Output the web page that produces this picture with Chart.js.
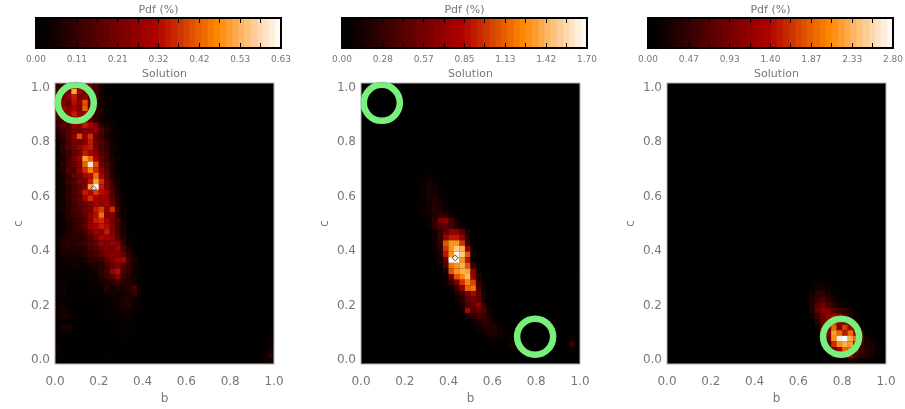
<!DOCTYPE html>
<html>
<head>
<meta charset="utf-8">
<title>Pdf solution</title>
<script src="https://cdn.jsdelivr.net/npm/chart.js@4/dist/chart.umd.min.js"></script>
<style>
  html, body { margin: 0; padding: 0; background: #fff; }
  #page { position: relative; width: 905px; height: 409px; overflow: hidden; }
  canvas { position: absolute; }
</style>
</head>
<body>
<div id="page"></div>
<script>
// tick labels
const bTicks = ['0.0', '0.2', '0.4', '0.6', '0.8', '1.0'];
const barLabelsA = ['0.00', '0.11', '0.21', '0.32', '0.42', '0.53', '0.63'];
const barLabelsB = ['0.00', '0.28', '0.57', '0.85', '1.13', '1.42', '1.70'];
const barLabelsC = ['0.00', '0.47', '0.93', '1.40', '1.87', '2.33', '2.80'];

// colour bar steps, fraction of the scale (bin centres)
const barLevels = [0.0125, 0.0375, 0.0625, 0.0875, 0.1125, 0.1375, 0.1625, 0.1875, 0.2125, 0.2375,
  0.2625, 0.2875, 0.3125, 0.3375, 0.3625, 0.3875, 0.4125, 0.4375, 0.4625, 0.4875,
  0.5125, 0.5375, 0.5625, 0.5875, 0.6125, 0.6375, 0.6625, 0.6875, 0.7125, 0.7375,
  0.7625, 0.7875, 0.8125, 0.8375, 0.8625, 0.8875, 0.9125, 0.9375, 0.9625, 0.9875];

// pdf maxima (%), in hundredths like the rows below
const maxA = 63, maxB = 170, maxC = 280;

// pdf rows: [row from top, first column, values in hundredths of a percent...]
const pdfA = [
  [0, 0, 10, 14, 18, 20, 22, 22, 18, 12, 4], [1, 0, 12, 18, 22, 50, 30, 24, 20, 14, 5],
  [2, 0, 14, 20, 26, 34, 22, 26, 16, 12, 6, 3], [3, 0, 16, 24, 18, 32, 26, 40, 20, 10, 5, 3, 3],
  [4, 0, 12, 28, 24, 30, 24, 42, 20, 12, 6, 3, 2], [5, 0, 14, 18, 26, 34, 28, 28, 22, 10, 6, 3],
  [6, 0, 12, 14, 18, 30, 22, 26, 14, 10, 5, 4, 3], [7, 0, 10, 18, 16, 28, 24, 34, 30, 22, 8, 6, 3],
  [8, 0, 8, 12, 16, 22, 20, 24, 22, 26, 14, 8, 4, 3], [9, 0, 6, 10, 16, 24, 40, 26, 36, 18, 12, 6, 4, 2],
  [10, 0, 5, 8, 14, 22, 20, 24, 34, 20, 16, 10, 4, 2, 1], [11, 0, 4, 10, 16, 20, 26, 32, 34, 22, 14, 10, 5, 3, 1],
  [12, 0, 3, 8, 12, 18, 22, 34, 30, 24, 16, 12, 5, 2], [13, 0, 4, 6, 14, 20, 28, 50, 42, 30, 18, 12, 6, 3],
  [14, 0, 3, 10, 12, 18, 24, 42, 60, 40, 20, 14, 8, 3], [15, 0, 4, 8, 16, 14, 26, 36, 46, 36, 26, 16, 6, 3],
  [16, 0, 3, 6, 10, 18, 20, 30, 32, 44, 30, 18, 8, 4, 2], [17, 0, 3, 6, 12, 14, 22, 22, 34, 50, 36, 22, 10, 5, 2],
  [18, 0, 3, 5, 9, 14, 18, 24, 50, 63, 34, 24, 12, 5, 2], [19, 0, 3, 6, 10, 14, 18, 34, 30, 38, 32, 30, 14, 6, 2],
  [20, 0, 3, 5, 10, 13, 17, 30, 36, 30, 28, 26, 16, 8, 3], [21, 0, 3, 5, 9, 13, 18, 18, 24, 30, 26, 30, 20, 8, 3, 1],
  [22, 0, 3, 6, 9, 14, 15, 20, 22, 34, 38, 26, 36, 12, 4, 1], [23, 0, 2, 5, 8, 12, 14, 18, 26, 32, 44, 24, 24, 10, 4, 1],
  [24, 0, 1, 4, 7, 10, 12, 15, 24, 34, 36, 30, 20, 14, 5, 2], [25, 0, 1, 4, 6, 9, 12, 17, 26, 30, 34, 32, 22, 12, 6, 2],
  [26, 0, 2, 4, 7, 9, 10, 13, 20, 28, 24, 34, 22, 14, 6, 2], [27, 0, 3, 6, 7, 9, 8, 11, 15, 22, 30, 28, 26, 16, 8, 3, 1],
  [28, 0, 4, 7, 9, 8, 10, 12, 15, 18, 26, 22, 26, 24, 10, 4, 1], [29, 0, 3, 7, 7, 7, 7, 9, 13, 16, 20, 24, 20, 28, 14, 6, 2],
  [30, 0, 3, 6, 4, 5, 6, 8, 11, 13, 17, 22, 24, 22, 18, 10, 4, 1], [31, 0, 3, 4, 5, 4, 5, 6, 9, 9, 11, 16, 22, 28, 30, 12, 6, 2],
  [32, 0, 2, 3, 4, 5, 3, 4, 5, 7, 9, 13, 18, 22, 16, 10, 5, 2], [33, 0, 2, 2, 3, 3, 3, 3, 4, 5, 9, 13, 26, 32, 14, 10, 4, 2, 1],
  [34, 0, 1, 2, 3, 3, 2, 2, 3, 4, 7, 11, 15, 24, 12, 8, 5, 3, 1], [35, 0, 3, 4, 3, 2, 2, 2, 3, 4, 6, 6, 9, 12, 9, 7, 5, 2],
  [36, 0, 4, 5, 2, 2, 2, 2, 2, 3, 3, 9, 5, 7, 6, 8, 14, 3, 1], [37, 0, 4, 4, 2, 1, 2, 2, 2, 3, 3, 5, 5, 4, 5, 6, 10, 3, 1],
  [38, 0, 3, 3, 2, 1, 1, 2, 2, 2, 2, 3, 4, 5, 6, 7, 5, 2], [39, 0, 4, 4, 2, 1, 1, 1, 2, 2, 2, 2, 3, 4, 7, 8, 4, 2, 1],
  [40, 0, 4, 6, 4, 2, 1, 1, 1, 2, 2, 3, 3, 3, 5, 5, 3, 1], [41, 0, 3, 5, 5, 2, 1, 1, 1, 2, 2, 2, 2, 2, 3, 4, 2, 1],
  [42, 0, 2, 2, 2, 1, 0, 0, 1, 1, 2, 2, 2, 2, 2, 3, 1, 1], [43, 0, 3, 6, 6, 2, 0, 0, 0, 1, 1, 2, 2, 1, 2, 2, 1],
  [44, 0, 2, 3, 3, 1, 0, 0, 0, 1, 1, 1, 1, 1, 4, 3, 1], [45, 0, 2, 2, 2, 0, 0, 0, 0, 0, 1, 1, 1, 1, 3, 1, 1],
  [46, 0, 2, 1, 1, 0, 0, 0, 0, 0, 0, 1, 1, 1, 1, 1, 0, 1], [47, 0, 4, 2, 1, 0, 0, 0, 0, 0, 0, 0, 0, 1, 1],
  [48, 0, 2, 1, 1, 0, 0, 0, 0, 0, 0, 3], [49, 0, 4, 0, 0, 0, 0, 0, 0, 0, 0, 0, 1],
  [43, 39, 2], [44, 39, 3], [45, 39, 3], [46, 39, 4], [47, 38, 2, 6], [48, 37, 2, 4, 9], [49, 38, 5, 3]
];

const pdfB = [
  [14, 11, 3, 5], [15, 11, 4, 6, 3], [16, 10, 3, 6, 8, 6, 2], [17, 10, 4, 8, 14, 8, 3],
  [18, 10, 5, 10, 16, 12, 4, 2], [19, 10, 4, 8, 14, 12, 6, 3], [20, 10, 3, 8, 16, 18, 10, 5],
  [21, 9, 5, 4, 6, 12, 20, 16, 8, 3], [22, 9, 2, 4, 10, 14, 22, 20, 10, 4], [23, 10, 4, 8, 14, 20, 28, 22, 10, 3],
  [24, 11, 4, 10, 24, 60, 66, 34, 16, 6], [25, 11, 4, 10, 24, 40, 46, 36, 20, 8, 3],
  [26, 12, 6, 14, 28, 50, 70, 70, 50, 16, 4], [27, 13, 10, 28, 72, 90, 90, 70, 22, 5],
  [28, 13, 10, 30, 110, 130, 130, 100, 30, 6], [29, 13, 8, 24, 100, 130, 150, 140, 70, 10],
  [30, 13, 6, 20, 90, 130, 165, 150, 110, 16, 5], [31, 14, 14, 50, 170, 170, 130, 90, 10],
  [32, 14, 10, 40, 120, 130, 140, 110, 30, 6], [33, 14, 6, 16, 110, 130, 140, 135, 70, 14, 4],
  [34, 15, 10, 60, 110, 125, 145, 75, 20], [35, 15, 8, 30, 60, 100, 125, 105, 30, 6],
  [36, 16, 10, 30, 70, 115, 120, 40, 8], [37, 16, 6, 16, 30, 60, 80, 50, 14, 4],
  [38, 17, 10, 24, 50, 60, 44, 14, 4], [39, 18, 16, 40, 50, 70, 24, 6], [40, 18, 10, 80, 40, 50, 36, 10, 3],
  [41, 19, 14, 26, 30, 28, 14, 4], [42, 20, 12, 20, 24, 20, 8, 3], [43, 20, 6, 12, 18, 22, 20, 8, 3],
  [44, 21, 6, 10, 18, 20, 12, 6, 3], [45, 22, 4, 8, 12, 10, 6, 8, 4], [46, 23, 3, 6, 6, 6, 14, 6, 3],
  [47, 24, 3, 4, 4, 4, 10, 4], [48, 26, 3, 4, 4],
  [33, 39, 5], [34, 39, 8], [35, 39, 6], [36, 39, 3], [44, 38, 6], [45, 38, 12], [46, 38, 26], [47, 38, 10], [48, 38, 4]
];

const pdfC = [
  [2, 26, 4, 6, 4], [3, 26, 3, 8, 5], [4, 27, 4, 3],
  [33, 26, 4, 6, 4], [34, 26, 6, 10, 8, 4], [35, 25, 4, 10, 16, 14, 8, 3], [36, 25, 6, 14, 24, 22, 16, 6],
  [37, 25, 8, 20, 36, 40, 30, 14, 6], [38, 25, 10, 30, 50, 60, 40, 24, 10, 4],
  [39, 25, 8, 30, 70, 90, 60, 40, 24, 14, 4], [40, 26, 30, 80, 110, 100, 70, 50, 40, 20, 8],
  [41, 26, 20, 50, 90, 110, 130, 100, 60, 40, 14, 4], [42, 27, 40, 80, 120, 170, 130, 90, 80, 30, 8],
  [43, 27, 20, 70, 110, 190, 100, 170, 130, 50, 14], [44, 28, 60, 110, 220, 190, 150, 190, 140, 50, 14, 6],
  [45, 28, 30, 90, 210, 270, 280, 230, 190, 70, 24, 8], [46, 28, 14, 60, 160, 210, 230, 220, 120, 60, 30, 30, 14],
  [47, 29, 30, 80, 130, 190, 200, 130, 50, 36, 30, 10], [48, 30, 24, 60, 90, 110, 60, 40, 30, 24, 8],
  [49, 31, 10, 20, 30, 20, 14, 10, 6]
];

// true solutions (green rings) and best fit (diamond) as b, c
const ringsA = [{ x: 0.095, y: 0.945 }];
const ringsB = [{ x: 0.095, y: 0.945 }, { x: 0.795, y: 0.085 }];
const ringsC = [{ x: 0.795, y: 0.085 }];
const bestA = [{ x: 0.175, y: 0.63 }];
const bestB = [{ x: 0.43, y: 0.375 }];
const bestC = [{ x: 0.767, y: 0.149 }];

const panels = [
  { left: 0, pdf: pdfA, max: maxA, rings: ringsA, best: bestA, barLabels: barLabelsA },
  { left: 306, pdf: pdfB, max: maxB, rings: ringsB, best: bestB, barLabels: barLabelsB },
  { left: 612, pdf: pdfC, max: maxC, rings: ringsC, best: bestC, barLabels: barLabelsC }
];

const textColor = '#777';
const fontName = '"DejaVu Sans", sans-serif';
const colCount = 40, rowCount = 50;
const yMin = -0.015, yMax = 1.018;

function heatColor(f) {
  const stops = [[0, 0, 0, 0], [0.04, 6, 0, 0], [0.49, 176, 0, 0], [0.74, 255, 136, 0], [1, 255, 255, 255]];
  f = Math.min(1, Math.max(0, f));
  for (let i = 1; i < stops.length; i++) {
    if (f <= stops[i][0]) {
      const a = stops[i - 1], b = stops[i];
      const t = (f - a[0]) / (b[0] - a[0]);
      return `rgb(${Math.round(a[1] + (b[1] - a[1]) * t)},${Math.round(a[2] + (b[2] - a[2]) * t)},${Math.round(a[3] + (b[3] - a[3]) * t)})`;
    }
  }
  return 'rgb(255,255,255)';
}

// turn the rows into b, c points on the cell centres
function pdfPoints(rows) {
  const pts = [];
  const cStep = (yMax - yMin) / rowCount;
  for (const r of rows) {
    for (let k = 2; k < r.length; k++) {
      if (r[k] === 0) continue;
      pts.push({ x: (r[1] + k - 2 + 0.5) / colCount, y: yMax - (r[0] + 0.5) * cStep, v: r[k] });
    }
  }
  return pts;
}

const framePlugin = {
  id: 'frame',
  beforeDraw(chart, args, opts) {
    const a = chart.chartArea;
    chart.ctx.fillStyle = opts.fill;
    chart.ctx.fillRect(a.left, a.top, a.right - a.left, a.bottom - a.top);
  },
  afterDraw(chart, args, opts) {
    const a = chart.chartArea, ctx = chart.ctx;
    ctx.save();
    ctx.strokeStyle = opts.color;
    ctx.lineWidth = opts.width;
    ctx.strokeRect(a.left, a.top, a.right - a.left, a.bottom - a.top);
    ctx.restore();
  }
};

function addCanvas(left, top, w, h) {
  const c = document.createElement('canvas');
  c.width = w;
  c.height = h;
  c.style.left = left + 'px';
  c.style.top = top + 'px';
  c.style.width = w + 'px';
  c.style.height = h + 'px';
  document.getElementById('page').appendChild(c);
  return c;
}

function noPad(s) {
  s.paddingLeft = 0; s.paddingRight = 0; s.paddingTop = 0; s.paddingBottom = 0;
}

function drawBar(p) {
  const c = addCanvas(p.left, 0, 306, 66);
  new Chart(c, {
    type: 'bar',
    data: {
      datasets: [{
        data: barLevels.map(v => ({ x: v, y: 1 })),
        backgroundColor: barLevels.map(v => heatColor(v)),
        borderColor: barLevels.map(v => heatColor(v)),
        borderWidth: 0.5,
        barPercentage: 1,
        categoryPercentage: 1
      }]
    },
    options: {
      responsive: false,
      animation: false,
      layout: { autoPadding: false, padding: { left: 36, right: 25 } },
      plugins: {
        legend: { display: false },
        tooltip: { enabled: false },
        frame: { fill: '#000', color: '#000', width: 2 },
        title: {
          display: true, text: 'Pdf (%)', color: textColor, fullSize: false,
          font: { family: fontName, size: 11, weight: 'normal', lineHeight: 1 },
          padding: { top: 5, bottom: 2 }
        }
      },
      scales: {
        x: {
          type: 'linear', min: 0, max: 1, offset: false,
          afterFit(s) { s.height = 18; noPad(s); },
          // the colour bar ticks are short black dashes from both edges
          border: { display: false, dash: [5, 20, 5, 0] },
          grid: { z: 1, offset: false, color: '#000', lineWidth: 1, drawTicks: false },
          ticks: {
            stepSize: 1 / 12, autoSkip: false, maxRotation: 0, padding: 6, color: textColor,
            font: { family: fontName, size: 9 },
            callback: (v, i) => (i % 2 === 0 ? p.barLabels[i / 2] : '')
          }
        },
        y: { type: 'linear', min: 0, max: 1, display: false }
      }
    },
    plugins: [framePlugin]
  });
}

function drawPanel(p) {
  const c = addCanvas(p.left, 62, 300, 347);
  new Chart(c, {
    type: 'scatter',
    data: {
      datasets: [
        {
          data: p.rings, clip: false, pointStyle: 'circle', pointRadius: 18,
          pointBackgroundColor: 'rgba(0,0,0,0)', pointBorderColor: '#78f07c', pointBorderWidth: 6.5
        },
        {
          data: p.best, pointStyle: 'rectRot', pointRadius: 3,
          pointBackgroundColor: 'rgba(0,0,0,0)', pointBorderColor: '#555', pointBorderWidth: 1
        },
        {
          data: pdfPoints(p.pdf), pointStyle: 'rect', pointRadius: 4.05, pointBorderWidth: 0,
          pointBackgroundColor: ctx => heatColor(ctx.raw.v / p.max)
        }
      ]
    },
    options: {
      responsive: false,
      animation: false,
      layout: { autoPadding: false, padding: { right: 26 } },
      plugins: {
        legend: { display: false },
        tooltip: { enabled: false },
        frame: { fill: '#000', color: '#b4b4b4', width: 1 },
        title: {
          display: true, text: 'Solution', color: textColor, fullSize: false,
          font: { family: fontName, size: 11, weight: 'normal', lineHeight: 1 },
          padding: { top: 7, bottom: 3 }
        }
      },
      scales: {
        x: {
          type: 'linear', min: 0, max: 1,
          afterFit(s) { s.height = 45; noPad(s); },
          border: { display: false },
          grid: { display: false, drawTicks: false },
          title: {
            display: true, text: 'b', color: textColor, padding: { top: 6, bottom: 3 },
            font: { family: fontName, size: 12 }
          },
          ticks: {
            stepSize: 0.2, autoSkip: false, maxRotation: 0, padding: 11, color: textColor,
            font: { family: fontName, size: 12 },
            callback: (v, i) => bTicks[i]
          }
        },
        y: {
          type: 'linear', min: yMin, max: yMax,
          afterFit(s) { s.width = 55; noPad(s); },
          border: { display: false },
          grid: { display: false, drawTicks: false },
          title: {
            display: true, text: 'c', color: textColor, padding: { top: 12, bottom: 0 },
            font: { family: fontName, size: 12 }
          },
          afterBuildTicks(s) { s.ticks = bTicks.map(t => ({ value: parseFloat(t) })); },
          ticks: {
            autoSkip: false, padding: 5, color: textColor,
            font: { family: fontName, size: 12 },
            callback: v => v.toFixed(1)
          }
        }
      }
    },
    plugins: [framePlugin]
  });
}

panels.forEach(p => {
  drawBar(p);
  drawPanel(p);
});
</script>
</body>
</html>
